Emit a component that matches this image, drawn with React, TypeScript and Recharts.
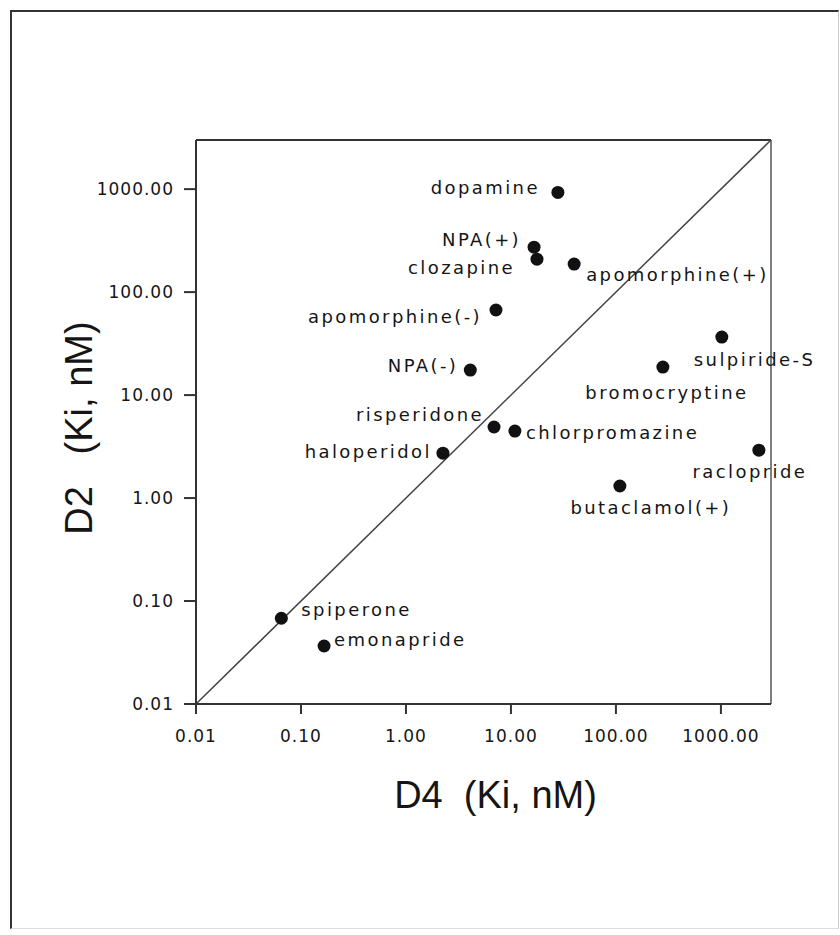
import React from 'react';
import {
  ScatterChart, Scatter, XAxis, YAxis, ReferenceLine, Label,
} from 'recharts';

// Ki values (nM)
const drugs = [
  'dopamine', 'NPA(+)', 'clozapine', 'apomorphine(+)', 'apomorphine(-)', 'NPA(-)',
  'sulpiride-S', 'bromocryptine', 'risperidone', 'chlorpromazine', 'haloperidol',
  'raclopride', 'butaclamol(+)', 'spiperone', 'emonapride',
];
const d4Ki = [28, 16.6, 17.7, 40, 7.2, 4.1, 1020, 280, 6.9, 10.9, 2.25, 2300, 109, 0.065, 0.166];
const d2Ki = [930, 273, 209, 187, 67, 17.5, 36.6, 18.7, 4.9, 4.47, 2.73, 2.92, 1.31, 0.068, 0.0366];

const axisTicks = [0.01, 0.1, 1, 10, 100, 1000];
const axisDomain = [0.01, 3000];

// where each name sits relative to its dot: [dx, dy, anchor]
const labelPlacement: Record<string, [number, number, string]> = {
  'dopamine': [-18, -3, 'end'],
  'NPA(+)': [-13, -6, 'end'],
  'clozapine': [-22, 10, 'end'],
  'apomorphine(+)': [12, 12, 'start'],
  'apomorphine(-)': [-14, 8, 'end'],
  'NPA(-)': [-12, -3, 'end'],
  'sulpiride-S': [-28, 24, 'start'],
  'bromocryptine': [4, 27, 'middle'],
  'risperidone': [-10, -11, 'end'],
  'chlorpromazine': [11, 3, 'start'],
  'haloperidol': [-11, 0, 'end'],
  'raclopride': [-9, 23, 'middle'],
  'butaclamol(+)': [31, 23, 'middle'],
  'spiperone': [20, -7, 'start'],
  'emonapride': [10, -5, 'start'],
};

const data = drugs.map((name, i) => ({ name, d4: d4Ki[i], d2: d2Ki[i] }));

const INK = '#151515';
const tickStyle = { fill: INK, fontSize: 17, fontFamily: 'DejaVu Sans', letterSpacing: 1 };

const DotWithName = (props: any) => {
  const { cx, cy, payload } = props;
  const [dx, dy, anchor] = labelPlacement[payload.name] || [10, 0, 'start'];
  return (
    <g>
      <circle cx={cx} cy={cy} r={6.5} fill="#111" />
      <text
        x={cx + dx}
        y={cy + dy}
        textAnchor={anchor}
        dominantBaseline="middle"
        fill={INK}
        fontSize={18}
        fontFamily="DejaVu Sans"
        letterSpacing={2.4}
      >
        {payload.name}
      </text>
    </g>
  );
};

export default function App() {
  return (
    <div style={{ position: 'absolute', left: 0, top: 0, width: 840, height: 935, background: '#fff' }}>
      <div
        style={{
          position: 'absolute', left: 10, top: 10, width: 826, height: 916,
          borderTop: '2px solid #333', borderLeft: '2px solid #333',
          borderRight: '1px solid #ccc', borderBottom: '1px solid #ddd',
        }}
      />
      <ScatterChart
        width={840}
        height={935}
        margin={{ top: 140, right: 69, bottom: 171, left: 136 }}
        style={{ position: 'absolute', left: 0, top: 0 }}
      >
        <XAxis
          type="number"
          dataKey="d4"
          scale="log"
          domain={axisDomain}
          ticks={axisTicks}
          height={60}
          tickSize={10}
          tickMargin={16}
          tickFormatter={(v: number) => v.toFixed(2)}
          tick={tickStyle}
          stroke="#333"
          strokeWidth={2}
        >
          <Label
            content={({ viewBox }: any) => (
              <text
                x={viewBox.x + viewBox.width / 2 + 12}
                y={808}
                textAnchor="middle"
                fill={INK}
                fontSize={38}
                fontFamily="Liberation Sans"
              >
                {'D4\u00a0 (Ki, nM)'}
              </text>
            )}
          />
        </XAxis>
        <YAxis
          type="number"
          dataKey="d2"
          scale="log"
          domain={axisDomain}
          ticks={axisTicks}
          width={60}
          tickSize={12}
          tickMargin={10}
          tickFormatter={(v: number) => v.toFixed(2)}
          tick={tickStyle}
          stroke="#333"
          strokeWidth={2}
        >
          <Label
            content={({ viewBox }: any) => {
              const cy = viewBox.y + viewBox.height / 2 + 6;
              return (
                <text
                  x={92}
                  y={cy}
                  transform={`rotate(-90, 92, ${cy})`}
                  textAnchor="middle"
                  fill={INK}
                  fontSize={38}
                  fontFamily="Liberation Sans"
                >
                  {'D2\u00a0\u00a0 (Ki, nM)'}
                </text>
              );
            }}
          />
        </YAxis>
        <ReferenceLine y={3000} stroke="#333" strokeWidth={2} />
        <ReferenceLine x={3000} stroke="#555" strokeWidth={1.5} />
        <ReferenceLine
          segment={[{ x: 0.01, y: 0.01 }, { x: 3000, y: 3000 }]}
          stroke="#444"
          strokeWidth={1.5}
        />
        <Scatter data={data} shape={DotWithName} isAnimationActive={false} />
      </ScatterChart>
    </div>
  );
}
